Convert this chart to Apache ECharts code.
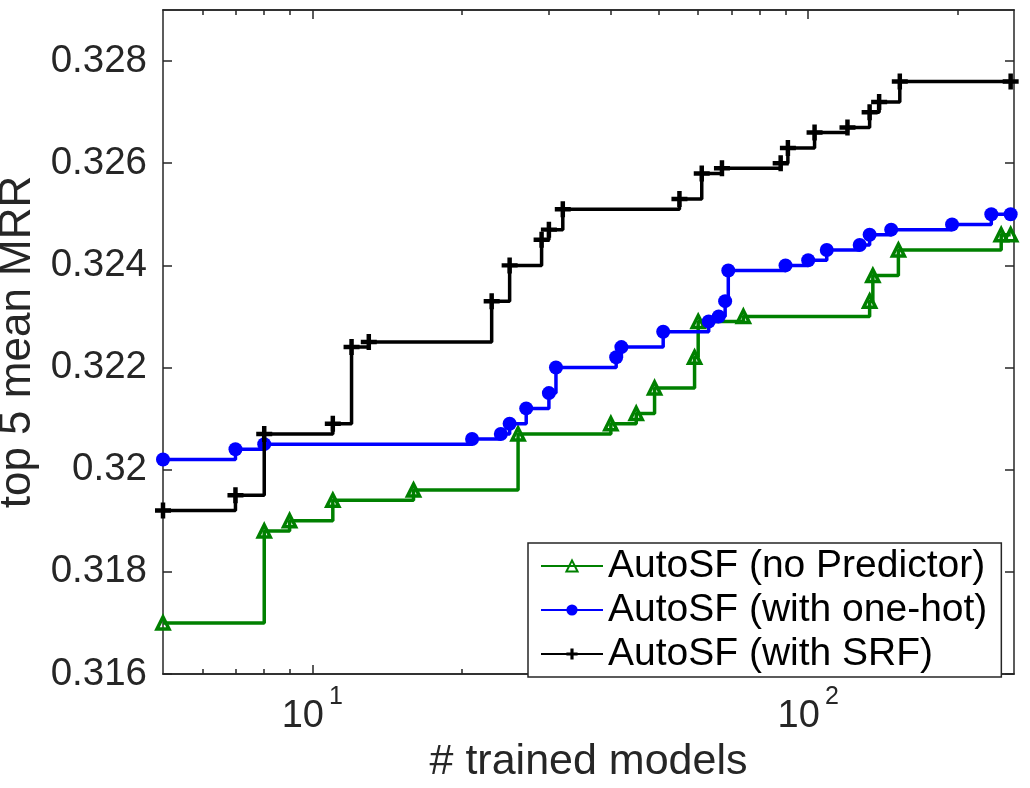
<!DOCTYPE html>
<html><head><meta charset="utf-8">
<script src="https://cdn.jsdelivr.net/npm/echarts@6/dist/echarts.min.js"></script>
<style>html,body{margin:0;padding:0;background:#fff}#c{width:1030px;height:788px}</style>
</head><body><div id="c"></div>
<script>
// ---- data ----
const seriesNames = ['AutoSF (no Predictor)', 'AutoSF (with one-hot)', 'AutoSF (with SRF)'];

const xNoPred = [5, 8, 9, 11, 16, 26, 40, 45, 49, 59, 60, 74, 133, 135, 152, 245, 256];
const yNoPred = [0.3170, 0.3188, 0.3190, 0.3194, 0.3196, 0.3207, 0.3209, 0.3211, 0.3216, 0.3222, 0.3229, 0.3230, 0.3233, 0.3238, 0.3243, 0.3246, 0.3246];

const xOneHot = [5, 7, 8, 21, 24, 25, 27, 30, 31, 41, 42, 51, 63, 66, 68, 69, 90, 100, 109, 127, 133, 147, 195, 234, 256];
const yOneHot = [0.3202, 0.3204, 0.3205, 0.3206, 0.3207, 0.3209, 0.3212, 0.3215, 0.3220, 0.3222, 0.3224, 0.3227, 0.3229, 0.3230, 0.3233, 0.3239, 0.3240, 0.3241, 0.3243, 0.3244, 0.3246, 0.3247, 0.3248, 0.3250, 0.3250];

const xSRF = [5, 7, 8, 11, 12, 13, 23, 25, 29, 30, 32, 55, 61, 67, 88, 91, 103, 120, 133, 139, 153, 256];
const ySRF = [0.3192, 0.3195, 0.3207, 0.3209, 0.3224, 0.3225, 0.3233, 0.3240, 0.3245, 0.3247, 0.3251, 0.3253, 0.3258, 0.3259, 0.3260, 0.3263, 0.3266, 0.3267, 0.3270, 0.3272, 0.3276, 0.3276];

const xMajorTicks = [10, 100];
const xMinorTicks = [6, 7, 8, 9, 20, 30, 40, 50, 60, 70, 80, 90, 200];
const yTicks = [0.316, 0.318, 0.320, 0.322, 0.324, 0.326, 0.328];
const xRange = [5, 260];
const yRange = [0.316, 0.329];

// ---- chart ----
const fam = '"Liberation Sans", Arial, Helvetica, sans-serif';
const axCol = '#262626';
const pair = (xs, ys) => xs.map((x, i) => [x, ys[i]]);

function xAx(pos, ticks, len, withLabels) {
  const a = {
    type: 'log', logBase: 10, min: xRange[0], max: xRange[1], position: pos,
    axisLine: { show: true, onZero: false, lineStyle: { color: axCol, width: 1.5 } },
    axisTick: { show: true, inside: true, length: len, customValues: ticks, lineStyle: { color: axCol, width: 1.5 } },
    axisLabel: { show: false },
    splitLine: { show: false }, minorTick: { show: false }, minorSplitLine: { show: false }
  };
  if (withLabels) {
    a.axisLabel = {
      show: true, customValues: xMajorTicks, margin: 11,
      formatter: v => {
        const e = Math.log10(v);
        if (Math.abs(e - Math.round(e)) > 1e-6) return '';
        return '{b|10}{s|' + Math.round(e) + '}';
      },
      rich: {
        b: { fontFamily: fam, fontSize: 38, color: axCol, lineHeight: 64 },
        s: { fontFamily: fam, fontSize: 25, color: axCol, lineHeight: 20, verticalAlign: 'top', padding: [0, 0, 0, 5] }
      }
    };
    a.name = '# trained models';
    a.nameLocation = 'middle';
    a.nameGap = 63;
    a.nameTextStyle = { fontFamily: fam, fontSize: 43, color: axCol };
  }
  return a;
}
function yAx(pos, withLabels) {
  const a = {
    type: 'value', min: yRange[0], max: yRange[1], position: pos,
    axisLine: { show: true, onZero: false, lineStyle: { color: axCol, width: 1.5 } },
    axisTick: { show: true, inside: true, length: 9, customValues: yTicks, lineStyle: { color: axCol, width: 1.5 } },
    axisLabel: { show: false },
    splitLine: { show: false }
  };
  if (withLabels) {
    a.axisLabel = {
      show: true, customValues: yTicks, margin: 16,
      fontFamily: fam, fontSize: 38.5, color: axCol,
      formatter: v => String(+(+v).toFixed(3))
    };
    a.name = 'top 5 mean MRR';
    a.nameLocation = 'middle';
    a.nameGap = 114;
    a.nameTextStyle = { fontFamily: fam, fontSize: 44, color: axCol };
  }
  return a;
}

const plusPath = 'path://M3.6,0h2.8v3.6h3.6v2.8h-3.6v3.6h-2.8v-3.6h-3.6v-2.8h3.6z';

const chart = echarts.init(document.getElementById('c'), null, { renderer: 'canvas' });
chart.setOption({
  animation: false,
  backgroundColor: '#fff',
  grid: { left: 163, right: 16, top: 10, bottom: 114, containLabel: false, outerBoundsMode: 'none' },
  xAxis: [
    xAx('bottom', xMajorTicks, 9, true),
    xAx('bottom', xMinorTicks, 5, false),
    xAx('top', xMajorTicks, 9, false),
    xAx('top', xMinorTicks, 5, false)
  ],
  yAxis: [yAx('left', true), yAx('right', false)],
  legend: {
    orient: 'vertical', left: 528, top: 543,
    padding: [3, 14, 3, 12],
    itemWidth: 62, itemHeight: 14, itemGap: 4,
    backgroundColor: '#fff', borderColor: axCol, borderWidth: 1.5, borderRadius: 0,
    textStyle: { fontFamily: fam, fontSize: 39, color: '#000', lineHeight: 40 },
    data: seriesNames
  },
  series: [
    {
      name: seriesNames[0], type: 'line', step: 'end', data: pair(xNoPred, yNoPred),
      xAxisIndex: 0, yAxisIndex: 0, showAllSymbol: true,
      symbol: 'triangle', symbolSize: 12,
      lineStyle: { color: '#008000', width: 3.5 },
      itemStyle: { color: 'rgba(255,255,255,0)', borderColor: '#008000', borderWidth: 3.5 },
      z: 2
    },
    {
      name: seriesNames[1], type: 'line', step: 'end', data: pair(xOneHot, yOneHot),
      xAxisIndex: 0, yAxisIndex: 0, showAllSymbol: true,
      symbol: 'circle', symbolSize: 14,
      lineStyle: { color: '#0000ff', width: 3.5 },
      itemStyle: { color: '#0000ff', borderWidth: 0 },
      z: 3
    },
    {
      name: seriesNames[2], type: 'line', step: 'end', data: pair(xSRF, ySRF),
      xAxisIndex: 0, yAxisIndex: 0, showAllSymbol: true,
      symbol: plusPath, symbolSize: 16,
      lineStyle: { color: '#000000', width: 3.5 },
      itemStyle: { color: '#000000', borderWidth: 0 },
      z: 4
    }
  ]
});
</script></body></html>
